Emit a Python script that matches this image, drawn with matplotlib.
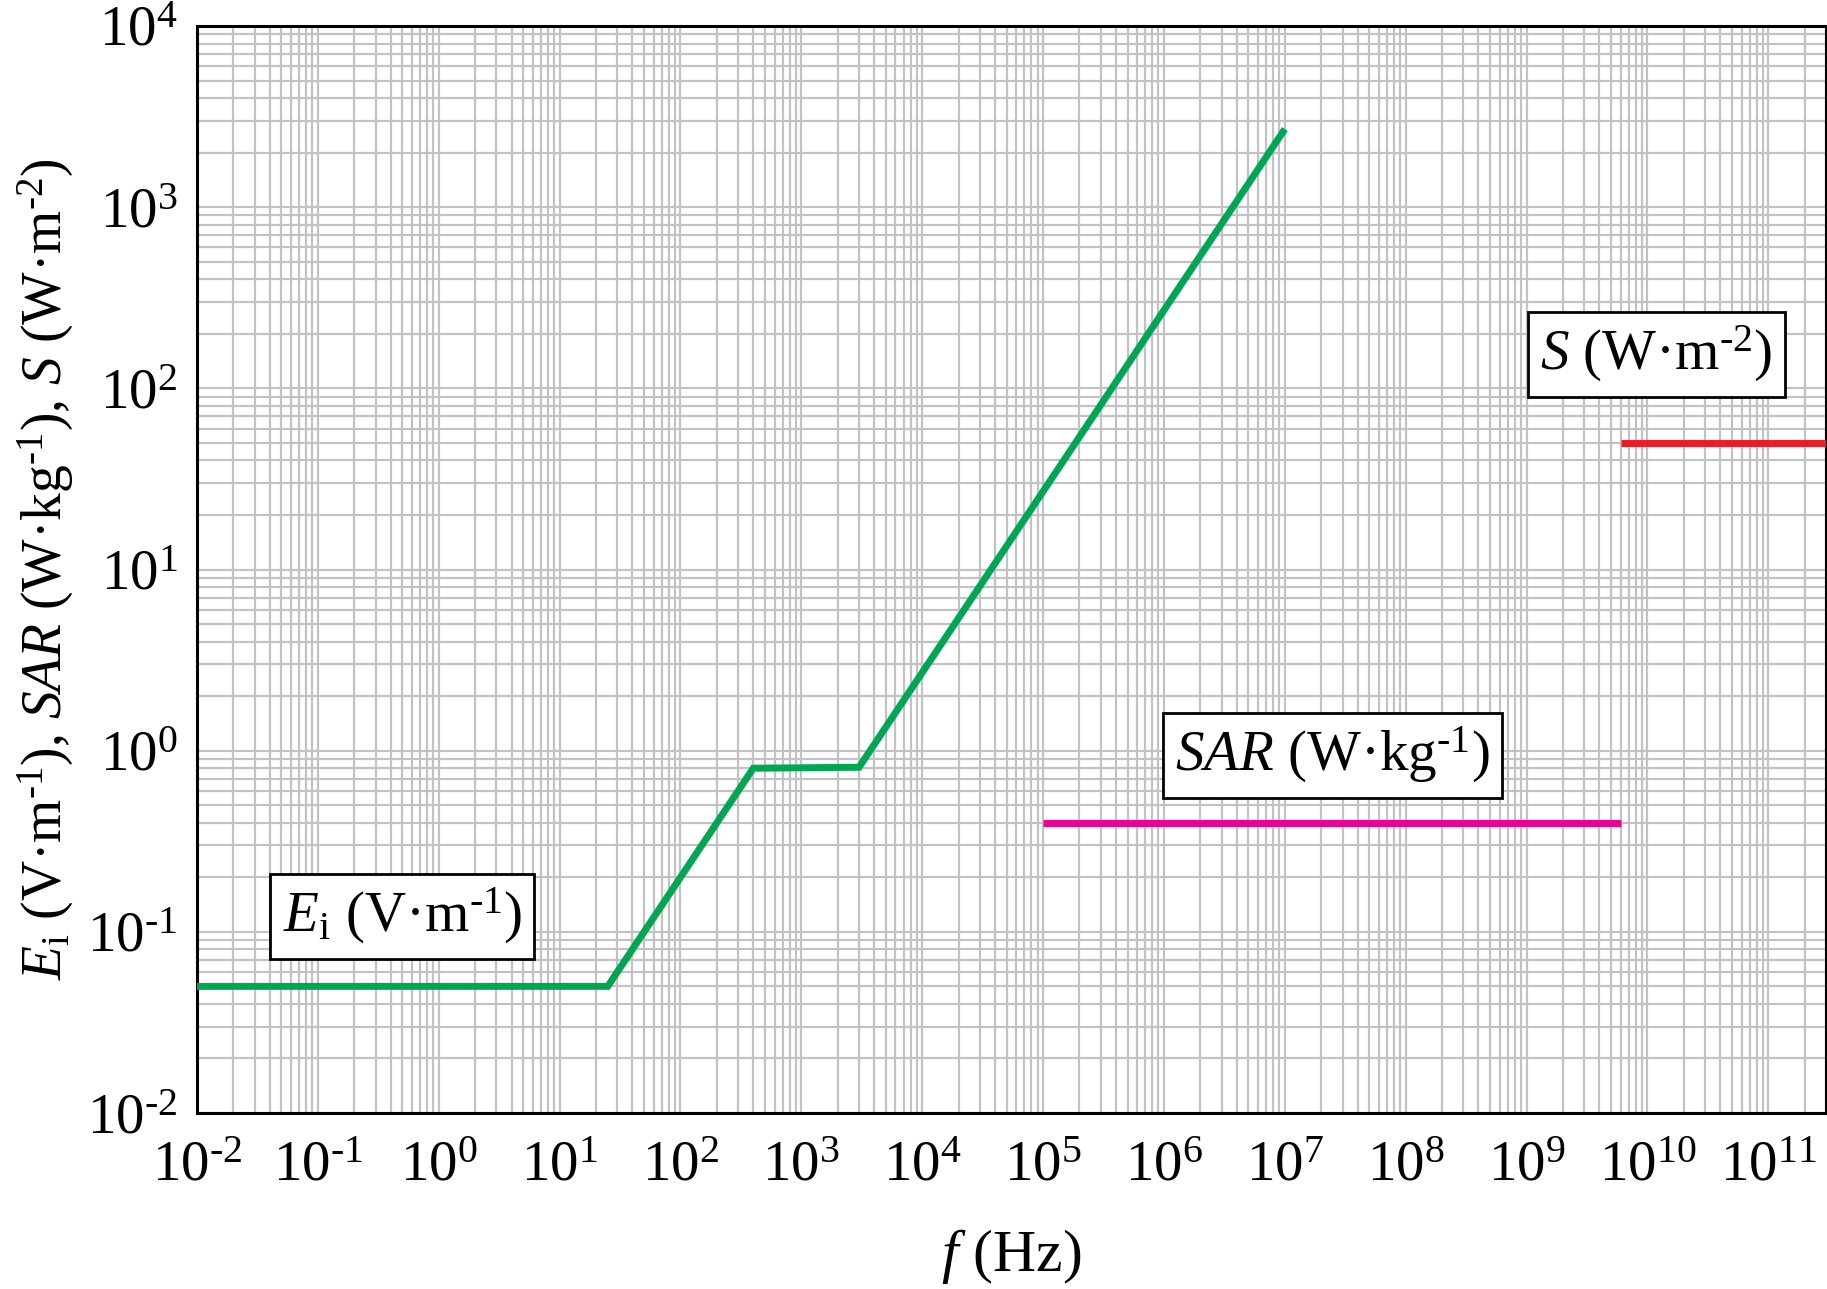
import numpy as np
import matplotlib
matplotlib.use("Agg")
import matplotlib.pyplot as plt
from matplotlib.ticker import LogLocator, FuncFormatter, NullFormatter

# ---- data ----
ei_f = [1e-2, 25, 400, 3000, 1e7]          # Hz
ei_v = [0.05, 0.05, 0.8, 0.81, 2700]       # V/m
sar_f = [1e5, 6e9]
sar_v = [0.4, 0.4]                          # W/kg
s_f = [6e9, 3e11]
s_v = [50, 50]                              # W/m^2

x_lim = (1e-2, 3e11)
y_lim = (1e-2, 1e4)

plt.rcParams['font.family'] = ['Liberation Serif', 'DejaVu Serif']
plt.rcParams['mathtext.fontset'] = 'custom'
plt.rcParams['mathtext.rm'] = 'Liberation Serif'
plt.rcParams['mathtext.it'] = 'Liberation Serif:italic'
plt.rcParams['mathtext.bf'] = 'Liberation Serif:bold'

fig = plt.figure(figsize=(18.27, 12.89), dpi=100)
ax = fig.add_axes([197/1827, 1 - 1113/1289, (1826-197)/1827, (1113-26)/1289])

green = '#00A651'
magenta = '#EC008C'
red = '#ED1C24'
lw = 5.0
ax.plot(ei_f, ei_v, color=green, lw=lw, solid_capstyle='butt', solid_joinstyle='miter', zorder=3)
ax.plot(sar_f, sar_v, color=magenta, lw=lw, solid_capstyle='butt', zorder=3)
ax.plot(s_f, s_v, color=red, lw=lw, solid_capstyle='butt', zorder=3)

ax.set_xscale('log')
ax.set_yscale('log')
ax.set_xlim(*x_lim)
ax.set_ylim(*y_lim)

for axis in (ax.xaxis, ax.yaxis):
    axis.set_major_locator(LogLocator(base=10, numticks=100))
    axis.set_minor_locator(LogLocator(base=10, subs=np.arange(2, 10), numticks=100))
    axis.set_minor_formatter(NullFormatter())

def fmt(v, pos):
    e = int(round(np.log10(v)))
    if e < 0:
        return r"$10^{\text{-}%d}$" % (-e)
    return r"$10^{%d}$" % e

ax.xaxis.set_major_formatter(FuncFormatter(fmt))
ax.yaxis.set_major_formatter(FuncFormatter(fmt))

ax.grid(True, which='both', color='#c2c2c2', linewidth=1.6, zorder=0)
ax.set_axisbelow(True)
ax.tick_params(which='both', length=0)
ax.tick_params(axis='x', labelsize=41, pad=20)
ax.tick_params(axis='y', labelsize=41, pad=14)

for sp in ax.spines.values():
    sp.set_linewidth(2.2)
    sp.set_color('black')

ax.set_xlabel(r"$f$ (Hz)", fontsize=43, labelpad=25)
ax.set_ylabel(r"$E_\mathrm{i}$ (V·m$^{\text{-}1}$), $SAR$ (W·kg$^{\text{-}1}$), $S$ (W·m$^{\text{-}2}$)",
              fontsize=40)
ax.yaxis.set_label_coords(-0.074, 0.5)

box = dict(boxstyle='square,pad=0.22', facecolor='white', edgecolor='black', linewidth=2)
ax.text(0.126, 0.181, r"$E_\mathrm{i}$ (V·m$^{\text{-}1}$)", transform=ax.transAxes,
        fontsize=41, ha='center', va='center', bbox=box, zorder=5)
ax.text(0.697, 0.329, r"$SAR$ (W·kg$^{\text{-}1}$)", transform=ax.transAxes,
        fontsize=41, ha='center', va='center', bbox=box, zorder=5)
ax.text(0.896, 0.698, r"$S$ (W·m$^{\text{-}2}$)", transform=ax.transAxes,
        fontsize=41, ha='center', va='center', bbox=box, zorder=5)

fig.savefig('out.png', dpi=100)
